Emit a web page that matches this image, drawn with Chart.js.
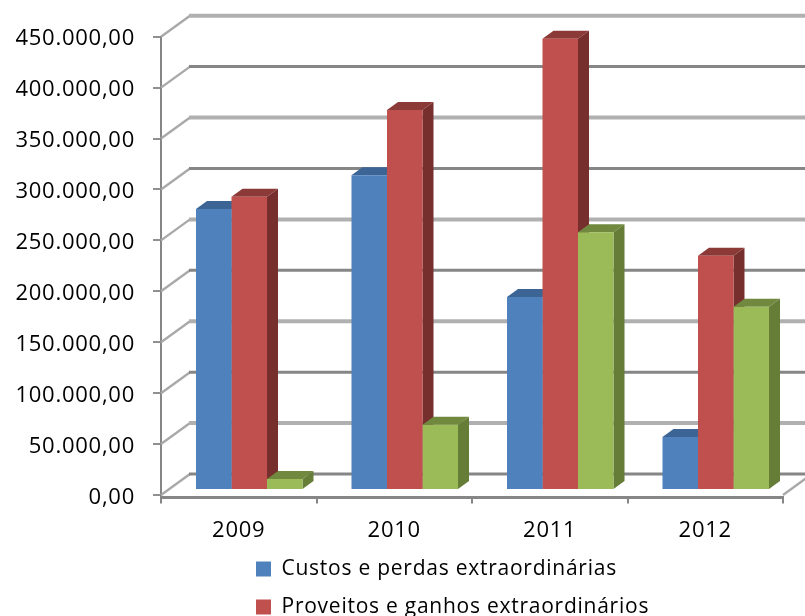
<!DOCTYPE html>
<html><head><meta charset="utf-8">
<style>html,body{margin:0;padding:0;background:#fff;overflow:hidden}canvas{display:block}</style>
<script src="https://cdn.jsdelivr.net/npm/chart.js@4"></script></head>
<body><canvas id="c" width="805" height="616"></canvas>
<script>
const categories = ['2009','2010','2011','2012'];
const custos = [276000,309000,189500,52000];
const proveitos = [288000,373000,443000,230000];
const resultados = [10800,64000,253000,180000];
const seriesNames = ['Custos e perdas extraordinárias','Proveitos e ganhos extraordinários','Resultados extraordinários'];
const yMax = 450000, yStep = 50000;

const front = ['#4f81bd','#c0504d','#9bbb59'];
const top3d = ['#3c6494','#8c3a38','#71893f'];
const side3d = ['#38608f','#772f2d','#667d38'];
const wall = {dx:29, dy:-21};
const bar3d = {dx:11, dy:-8, shiftX:10.5, shiftY:-5};

const fmt = v => v.toFixed(2).replace('.',',').replace(/\B(?=(\d{3})+(?!\d))/g,'.');

const poly = (ctx,pts,fill) => {ctx.beginPath();pts.forEach((p,i)=>i?ctx.lineTo(p[0],p[1]):ctx.moveTo(p[0],p[1]));ctx.closePath();ctx.fillStyle=fill;ctx.fill();};

const plugin3d = {
  id:'plugin3d',
  beforeUpdate(chart){chart.ctx.letterSpacing='0.75px';},
  beforeDraw(chart){chart.ctx.letterSpacing='0.75px';},
  afterLayout(chart){
    const x = chart.scales.x, l = chart.legend;
    x.top += 2.6; x.bottom += 2.6;
    l.left = 239; l.right = 805; l.width = 566; l.top = 541.5; l.bottom = 616; l.height = 74.5;
  },
  beforeDatasetsDraw(chart){
    const {ctx,chartArea:a,scales:{y}} = chart;
    ctx.save();
    y.ticks.forEach((t)=>{
      const py = y.getPixelForValue(t.value);
      ctx.lineCap='butt';
      ctx.strokeStyle = '#a9a9a9'; ctx.lineWidth = 2.4;
      ctx.beginPath(); ctx.moveTo(a.left,py); ctx.lineTo(a.left+wall.dx,py+wall.dy); ctx.stroke();
      ctx.strokeStyle = (t.value/yStep)%2 ? '#b0b0b0' : '#868686';
      ctx.lineWidth = (t.value/yStep)%2 ? 4 : 3;
      ctx.beginPath(); ctx.moveTo(a.left+wall.dx-1,py+wall.dy); ctx.lineTo(a.right+wall.dx,py+wall.dy); ctx.stroke();
    });
    const y0 = y.getPixelForValue(0);
    ctx.strokeStyle='#a9a9a9'; ctx.lineWidth=2.4;
    ctx.beginPath(); ctx.moveTo(a.right,y0); ctx.lineTo(a.right+wall.dx,y0+wall.dy); ctx.stroke();
    ctx.restore();
    ctx.save();
    ctx.translate(bar3d.shiftX,bar3d.shiftY);
    categories.forEach((_,c)=>{
      chart.data.datasets.forEach((_d,s)=>{
        const b = chart.getDatasetMeta(s).data[c];
        const l=b.x-b.width/2,r=b.x+b.width/2,t=b.y,bt=b.base;
        poly(ctx,[[l,t],[r,t],[r+bar3d.dx,t+bar3d.dy],[l+bar3d.dx,t+bar3d.dy]],top3d[s]);
        poly(ctx,[[r,t],[r+bar3d.dx,t+bar3d.dy],[r+bar3d.dx,bt+bar3d.dy],[r,bt]],side3d[s]);
      });
    });
  },
  afterDatasetsDraw(chart){chart.ctx.restore();}
};

new Chart(document.getElementById('c'),{
  type:'bar',
  data:{labels:categories,datasets:[custos,proveitos,resultados].map((d,i)=>({
    label:seriesNames[i],data:d,backgroundColor:front[i],borderWidth:0,clip:false,
    categoryPercentage:0.685,barPercentage:1
  }))},
  options:{
    responsive:false,animation:false,
    layout:{padding:{top:36.7,right:22,left:0,bottom:0}},
    scales:{
      x:{offset:true,
        grid:{display:true,drawOnChartArea:false,offset:true,color:'#868686',lineWidth:2,tickLength:6},
        border:{color:'#868686',width:3},
        ticks:{color:'#000',padding:14,maxRotation:0,font:{family:'"Open Sans"',size:22}},
        afterFit(s){s.height=120;}
      },
      y:{min:0,max:yMax,
        grid:{display:true,drawOnChartArea:false,color:'#909090',lineWidth:2,tickLength:8},
        border:{color:'#868686',width:2},
        ticks:{stepSize:yStep,color:'#000',padding:18,labelOffset:2.5,font:{family:'"Open Sans"',size:22},callback:v=>fmt(v)},
        afterFit(s){s.width=161;}
      }
    },
    plugins:{
      tooltip:{enabled:false},
      legend:{display:true,position:'bottom',align:'start',maxWidth:440,maxHeight:1,
        labels:{boxWidth:15,boxHeight:15,padding:17,color:'#000',font:{family:'"Open Sans"',size:21}}}
    }
  },
  plugins:[plugin3d]
});
</script></body></html>
